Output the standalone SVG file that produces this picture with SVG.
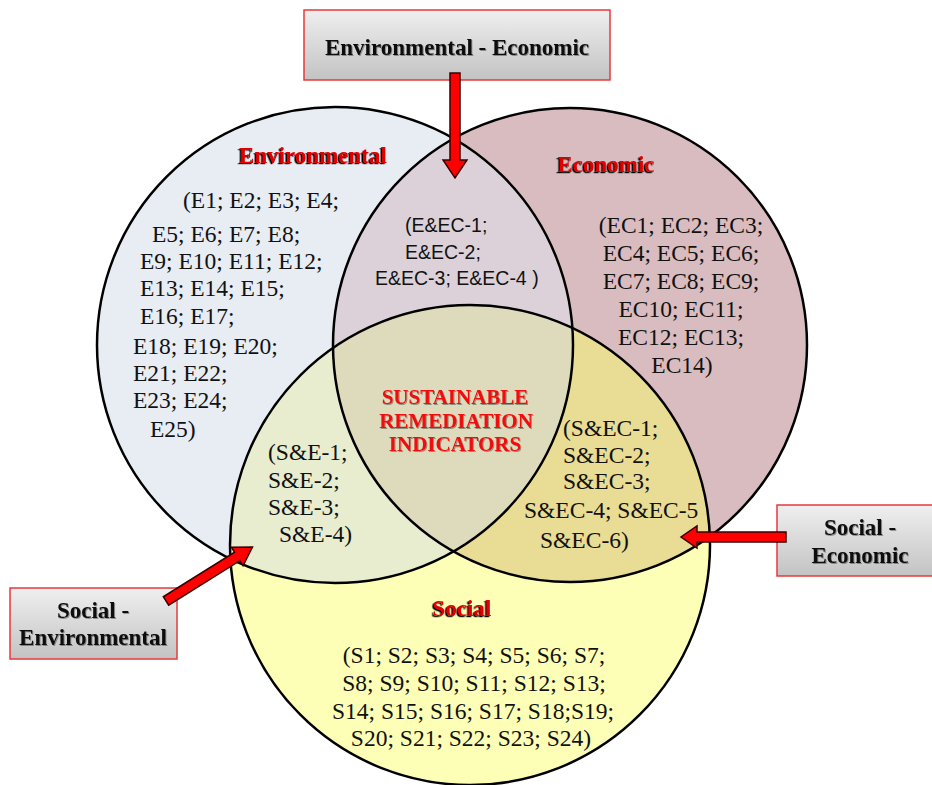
<svg xmlns="http://www.w3.org/2000/svg" width="932" height="785" viewBox="0 0 932 785">
  <defs>
    <style>
      .ring { fill: none; stroke: #000; stroke-width: 2.5; }
      .list { font-family: "Liberation Serif", "Times New Roman", serif; font-size: 23.5px; fill: #111; }
      .sans { font-family: "Liberation Sans", Arial, sans-serif; font-size: 19.5px; fill: #111; }
      .title { font-family: "Liberation Serif", "Times New Roman", serif; font-size: 23px; font-weight: bold; fill: #e00000; filter: url(#outlineShadow); }
      .core { font-family: "Liberation Serif", "Times New Roman", serif; font-size: 21px; font-weight: bold; fill: #f01010; filter: url(#softShadow); }
      .boxtext { font-family: "Liberation Serif", "Times New Roman", serif; font-size: 23px; font-weight: bold; fill: #111; filter: url(#softShadow); }
      .box { fill: url(#boxFill); stroke: #e8393b; stroke-width: 1.5; }
      .arrow { fill: #ff0000; stroke: #3a0000; stroke-width: 1.5; stroke-linejoin: miter; }
    </style>
    <linearGradient id="boxFill" x1="0" y1="0" x2="0" y2="1">
      <stop offset="0" stop-color="#efefef"/>
      <stop offset="1" stop-color="#c3c3c3"/>
    </linearGradient>
    <filter id="outlineShadow" x="-10%" y="-30%" width="120%" height="160%">
      <feDropShadow dx="-1.5" dy="1.2" stdDeviation="0.2" flood-color="#000" flood-opacity="1"/>
    </filter>
    <filter id="softShadow" x="-10%" y="-30%" width="120%" height="160%">
      <feDropShadow dx="1" dy="1" stdDeviation="0.6" flood-color="#000" flood-opacity="0.35"/>
    </filter>
    <clipPath id="clipEnv"><circle cx="335" cy="345" r="238"/></clipPath>
    <clipPath id="clipEco"><circle cx="570" cy="345" r="237"/></clipPath>
    <clipPath id="clipSoc"><circle cx="470" cy="545" r="240"/></clipPath>
  </defs>

  <rect width="932" height="785" fill="#ffffff"/>

  <!-- circle fills and their overlaps -->
  <g id="fills">
    <circle cx="335" cy="345" r="238" fill="#e8ecf3"/>
    <circle cx="570" cy="345" r="237" fill="#d9bcbf"/>
    <circle cx="470" cy="545" r="240" fill="#feffb6"/>
    <g clip-path="url(#clipEnv)">
      <circle cx="570" cy="345" r="237" fill="#dcd1d8"/>
      <circle cx="470" cy="545" r="240" fill="#e8edd0"/>
    </g>
    <g clip-path="url(#clipEco)">
      <circle cx="470" cy="545" r="240" fill="#e9dc94"/>
    </g>
    <g clip-path="url(#clipEnv)">
      <g clip-path="url(#clipEco)">
        <circle cx="470" cy="545" r="240" fill="#dedabc"/>
      </g>
    </g>
  </g>

  <!-- circle outlines -->
  <g id="environmental">
    <circle class="ring" cx="335" cy="345" r="238"/>
    <text class="title" x="313" y="163" text-anchor="middle">Environmental</text>
    <g class="list">
      <text x="183" y="208">(E1; E2; E3; E4;</text>
      <text x="152" y="242">E5; E6; E7; E8;</text>
      <text x="140" y="269">E9; E10; E11; E12;</text>
      <text x="140" y="296">E13; E14; E15;</text>
      <text x="140" y="324">E16; E17;</text>
      <text x="133" y="354">E18; E19; E20;</text>
      <text x="133" y="381">E21; E22;</text>
      <text x="133" y="408">E23; E24;</text>
      <text x="150" y="437">E25)</text>
    </g>
  </g>

  <g id="economic">
    <circle class="ring" cx="570" cy="345" r="237"/>
    <text class="title" x="606" y="172" text-anchor="middle">Economic</text>
    <g class="list" text-anchor="middle">
      <text x="681" y="233">(EC1; EC2; EC3;</text>
      <text x="681" y="261">EC4; EC5; EC6;</text>
      <text x="681" y="289">EC7; EC8; EC9;</text>
      <text x="681" y="317">EC10; EC11;</text>
      <text x="681" y="345">EC12; EC13;</text>
      <text x="682" y="373">EC14)</text>
    </g>
  </g>

  <g id="social">
    <circle class="ring" cx="470" cy="545" r="240"/>
    <text class="title" x="462" y="616" text-anchor="middle">Social</text>
    <g class="list" text-anchor="middle">
      <text x="474" y="663">(S1; S2; S3; S4; S5; S6; S7;</text>
      <text x="474" y="691">S8; S9; S10; S11; S12; S13;</text>
      <text x="473" y="719">S14; S15; S16; S17; S18;S19;</text>
      <text x="471" y="746">S20; S21; S22; S23; S24)</text>
    </g>
  </g>

  <g id="env-eco">
    <g class="sans">
      <text x="405" y="232">(E&amp;EC-1;</text>
      <text x="405" y="259">E&amp;EC-2;</text>
      <text x="375" y="285">E&amp;EC-3; E&amp;EC-4 )</text>
    </g>
  </g>

  <g id="soc-env">
    <g class="list">
      <text x="268" y="460">(S&amp;E-1;</text>
      <text x="268" y="488">S&amp;E-2;</text>
      <text x="268" y="515">S&amp;E-3;</text>
      <text x="279" y="542">S&amp;E-4)</text>
    </g>
  </g>

  <g id="soc-eco">
    <g class="list">
      <text x="563" y="436">(S&amp;EC-1;</text>
      <text x="563" y="463">S&amp;EC-2;</text>
      <text x="563" y="489">S&amp;EC-3;</text>
      <text x="524" y="518">S&amp;EC-4; S&amp;EC-5</text>
      <text x="540" y="548">S&amp;EC-6)</text>
    </g>
  </g>

  <g id="core">
    <g class="core" text-anchor="middle">
      <text x="455" y="404">SUSTAINABLE</text>
      <text x="456" y="428">REMEDIATION</text>
      <text x="455" y="451">INDICATORS</text>
    </g>
  </g>

  <!-- callout boxes -->
  <g id="box-env-eco">
    <rect class="box" x="304" y="10" width="306" height="70"/>
    <text class="boxtext" x="457" y="55" text-anchor="middle">Environmental - Economic</text>
  </g>
  <g id="box-soc-env">
    <rect class="box" x="10" y="588" width="167" height="71"/>
    <text class="boxtext" x="93" y="618" text-anchor="middle">Social -</text>
    <text class="boxtext" x="93" y="645" text-anchor="middle">Environmental</text>
  </g>
  <g id="box-soc-eco">
    <rect class="box" x="777" y="505" width="160" height="71"/>
    <text class="boxtext" x="860" y="535" text-anchor="middle">Social -</text>
    <text class="boxtext" x="860" y="563" text-anchor="middle">Economic</text>
  </g>

  <!-- pointer arrows -->
  <g id="connectors">
    <polygon class="arrow" points="450,73 460,73 460,160 467,160 455,178 443,160 450,160"/>
    <polygon class="arrow" points="786,532 786,542 697,542 697,548 681,537 697,526 697,532"/>
    <polygon class="arrow" transform="translate(166,601) rotate(-32)" points="0,-5 84,-5 84,-11 102,0 84,11 84,5 0,5"/>
  </g>
</svg>
